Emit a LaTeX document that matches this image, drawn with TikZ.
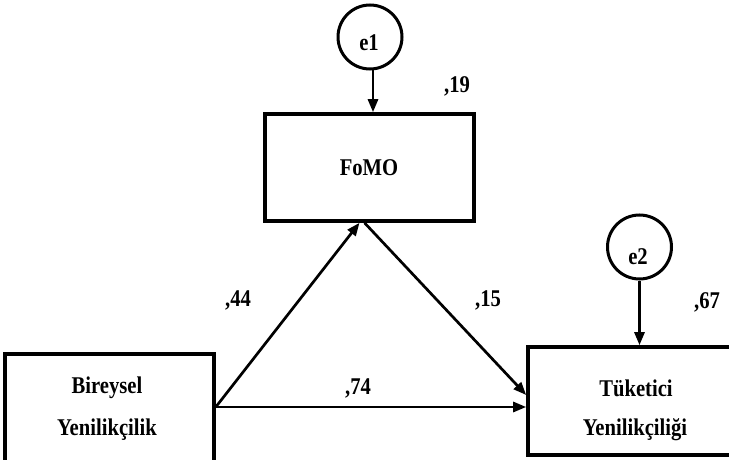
\documentclass[tikz,border=0pt]{standalone}
\usepackage{fontspec}
\setmainfont{Liberation Serif}[FakeStretch=0.86]
\usetikzlibrary{arrows.meta}
\tikzset{
  box/.style={draw, line width=3.6pt, rectangle, inner sep=0pt},
  err/.style={draw, line width=3pt, circle, minimum size=64pt, inner sep=0pt},
  lbl/.style={font=\fontsize{24}{28}\selectfont\bfseries, inner sep=0pt},
  path/.style={line width=2.7pt, -{Triangle[length=13pt,width=10pt]}}
}
\begin{document}
\begin{tikzpicture}[x=1pt,y=-1pt]
\path[use as bounding box] (0,0) rectangle (729,460);
\clip (0,0) rectangle (729,460);
% boxes
\node[box, minimum width=209pt, minimum height=116pt] (bir) at (109.5,412) {};
\node[box, minimum width=209pt, minimum height=107pt] (fomo) at (369.5,167.5) {};
\node[box, minimum width=214pt, minimum height=108pt] (tuk) at (635,401) {};
% error circles
\node[err] (e1) at (370,37) {};
\node[err] (e2) at (639.5,247) {};
% texts
\node[lbl] (t1) at (369,168) {FoMO};
\node[lbl] (t2a) at (107,388) {Bireysel};
\node[lbl] (t2b) at (107,430) {Yenilikçilik};
\node[lbl] (t3a) at (636,388) {Tüketici};
\node[lbl] (t3b) at (635,430) {Yenilikçiliği};
\node[lbl] (te1) at (369,43) {e1};
\node[lbl] (te2) at (638,257) {e2};
% coefficients
\node[lbl] (c19) at (457,86) {,19};
\node[lbl] (c44) at (238,300) {,44};
\node[lbl] (c15) at (488,300) {,15};
\node[lbl] (c74) at (358,388) {,74};
\node[lbl] (c67) at (707,302) {,67};
% connectors
\coordinate (bo) at ([yshift=5pt]bir.east);
\coordinate (fin) at ([xshift=-10pt]fomo.south);
\coordinate (fout) at ([xshift=-5pt]fomo.south);
\coordinate (tin) at ([yshift=6pt]tuk.west);
\draw[path] ([xshift=3pt]e1.south) -- ([xshift=3pt]e1.south |- fomo.north);
\draw[path] (e2.south) -- (e2.south |- tuk.north);
\draw[path] (bo) -- (fin);
\draw[path] (fout) -- (tin);
\draw[path] (bo) -- (tuk.west |- bo);
\end{tikzpicture}
\end{document}
